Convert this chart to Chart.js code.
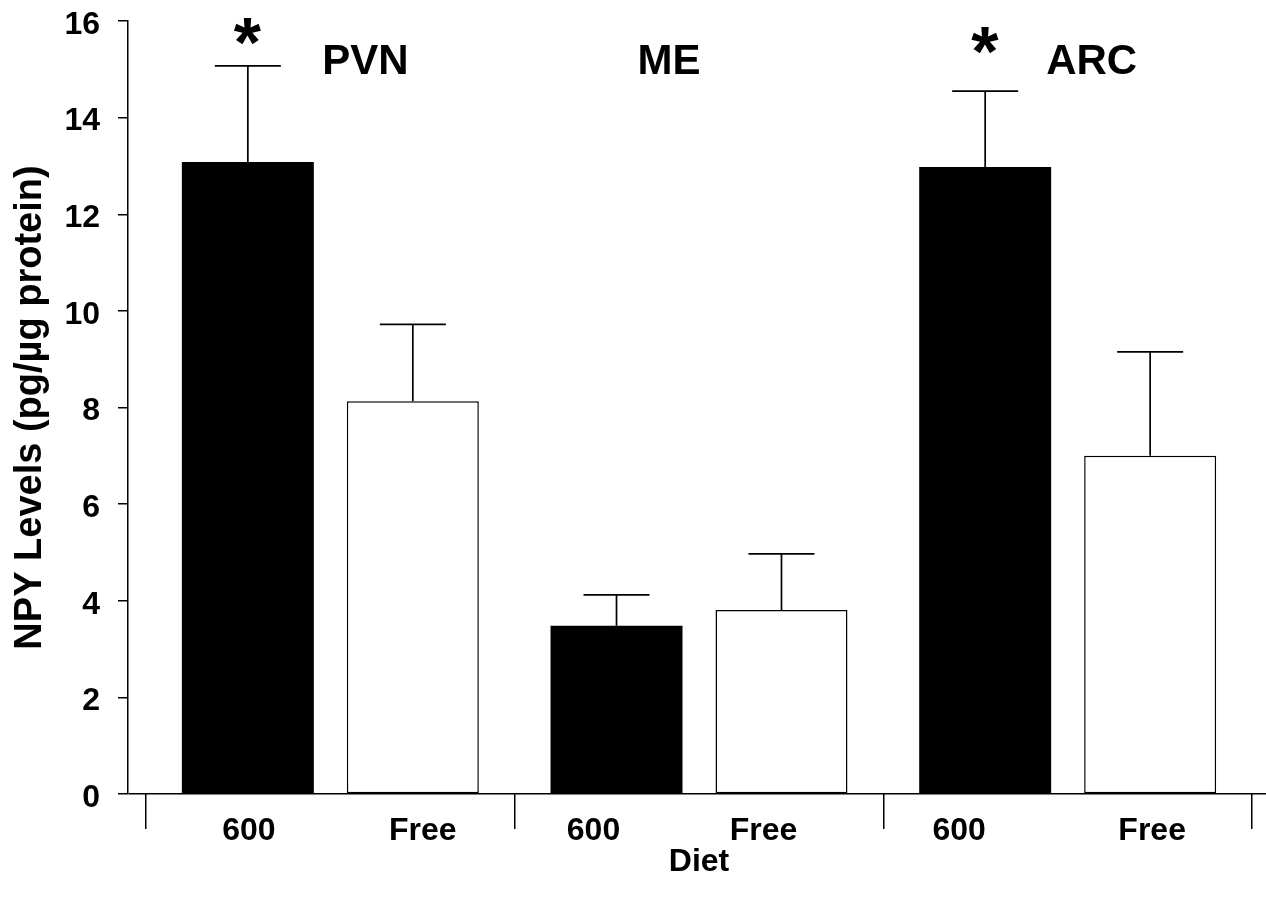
<!DOCTYPE html>
<html>
<head>
<meta charset="utf-8">
<script src="https://cdn.jsdelivr.net/npm/chart.js@4.4.1/dist/chart.umd.min.js"></script>
<style>
  html, body { margin: 0; padding: 0; background: #ffffff; }
  #wrap { width: 1266px; height: 903px; }
</style>
</head>
<body>
<div id="wrap"><canvas id="chart" width="1266" height="903"></canvas></div>
<script>
// ---------------- data ----------------
const regions = ['PVN', 'ME', 'ARC'];
const dietLabels = ['600', 'Free'];
const values600 = [13.08, 3.48, 12.98];
const valuesFree = [8.13, 3.81, 7.00];
const sem600 = [1.99, 0.64, 1.57];
const semFree = [1.59, 1.16, 2.15];
const significant600 = [true, false, true];
const yTickValues = [0, 2, 4, 6, 8, 10, 12, 14, 16];
const yTitle = 'NPY Levels (pg/\u00B5g protein)';
const xTitle = 'Diet';

// ---------------- layout / style constants ----------------
const FONT = "'Liberation Sans', Arial, Helvetica, sans-serif";
const X_RANGE = { left: 146, right: 1252 };      // pixel span of the grouping axis
const CAP_HALF = 33;                              // error-bar cap half width (px)
const LABEL_DX = [[1, -23, -26], [10, -18, 2]];   // diet label shift per dataset/group (px)
const GROUP_LABEL_DX = [35, -30, 24];             // region label shift (px)
const GROUP_LABEL_LEVEL = 14.9;                   // region label baseline (axis units)
const STAR_LEVEL = [15.78, null, 15.59];          // asterisk centre (axis units)

Chart.defaults.font.family = FONT;
Chart.defaults.font.weight = 'bold';
Chart.defaults.color = '#000';

const shiftXAxis = {
  id: 'shiftXAxis',
  afterLayout(chart) {
    const x = chart.scales.x;
    x.left = X_RANGE.left;
    x.right = X_RANGE.right;
    x.width = x.right - x.left;
    x.configure();
  }
};

const annotations = {
  id: 'annotations',
  afterDatasetsDraw(chart) {
    const ctx = chart.ctx;
    const y = chart.scales.y;
    ctx.save();
    ctx.strokeStyle = '#000';
    ctx.lineWidth = 1.7;
    chart.data.datasets.forEach((ds, di) => {
      const meta = chart.getDatasetMeta(di);
      meta.data.forEach((bar, i) => {
        const top = y.getPixelForValue(ds.data[i] + ds.sem[i]);
        ctx.beginPath();
        ctx.moveTo(bar.x, bar.y);
        ctx.lineTo(bar.x, top);
        ctx.moveTo(bar.x - CAP_HALF, top);
        ctx.lineTo(bar.x + CAP_HALF, top);
        ctx.stroke();
      });
    });
    ctx.restore();
  },
  afterDraw(chart) {
    const ctx = chart.ctx;
    const x = chart.scales.x;
    const y = chart.scales.y;
    const area = chart.chartArea;
    ctx.save();
    ctx.fillStyle = '#000';
    // diet labels under each bar
    ctx.font = 'bold 32px ' + FONT;
    ctx.textAlign = 'center';
    ctx.textBaseline = 'alphabetic';
    chart.data.datasets.forEach((ds, di) => {
      const meta = chart.getDatasetMeta(di);
      meta.data.forEach((bar, i) => {
        ctx.fillText(dietLabels[di], bar.x + LABEL_DX[di][i], area.bottom + 46);
      });
    });
    // region labels
    ctx.font = 'bold 42px ' + FONT;
    regions.forEach((r, i) => {
      ctx.fillText(r, x.getPixelForValue(i) + GROUP_LABEL_DX[i], y.getPixelForValue(GROUP_LABEL_LEVEL));
    });
    // significance asterisks
    ctx.font = 'bold 70px ' + FONT;
    ctx.textAlign = 'left';
    const m = ctx.measureText('*');
    const meta0 = chart.getDatasetMeta(0);
    significant600.forEach((s, i) => {
      if (!s) return;
      const cx = meta0.data[i].x;
      const cy = y.getPixelForValue(STAR_LEVEL[i]);
      const base = cy + (m.actualBoundingBoxAscent - m.actualBoundingBoxDescent) / 2;
      const drawX = cx - (m.actualBoundingBoxRight - m.actualBoundingBoxLeft) / 2;
      ctx.fillText('*', drawX, base);
    });
    ctx.restore();
  }
};

new Chart(document.getElementById('chart'), {
  type: 'bar',
  data: {
    labels: regions,
    datasets: [
      {
        label: dietLabels[0],
        data: values600,
        sem: sem600,
        backgroundColor: '#000',
        borderColor: '#000',
        borderWidth: 0
      },
      {
        label: dietLabels[1],
        data: valuesFree,
        sem: semFree,
        backgroundColor: '#fff',
        borderColor: '#000',
        borderWidth: 1.5,
        borderSkipped: false
      }
    ]
  },
  options: {
    responsive: false,
    animation: false,
    devicePixelRatio: 1,
    categoryPercentage: 0.895,
    barPercentage: 0.8,
    layout: { padding: { top: 21, left: 0, right: 0, bottom: 0 } },
    plugins: {
      legend: { display: false },
      tooltip: { enabled: false }
    },
    scales: {
      x: {
        type: 'category',
        offset: true,
        border: { display: false },
        grid: {
          offset: true,
          drawOnChartArea: false,
          drawTicks: true,
          tickLength: 35,
          color: '#000',
          tickColor: '#000',
          lineWidth: 1.5
        },
        ticks: { display: false },
        title: {
          display: true,
          text: xTitle,
          font: { size: 32, weight: 'bold', family: FONT },
          color: '#000',
          padding: { top: 10, bottom: 22 }
        },
        afterFit(s) { s.height = 109; }
      },
      y: {
        type: 'linear',
        min: 0,
        max: 16,
        afterBuildTicks(s) { s.ticks = yTickValues.map(v => ({ value: v })); },
        border: { display: true, color: '#000', width: 1.5 },
        grid: {
          drawOnChartArea: true,
          drawTicks: true,
          tickLength: 10,
          color: c => (c.tick && c.tick.value === 0 ? '#000' : 'rgba(0,0,0,0)'),
          tickColor: '#000',
          lineWidth: 1.5
        },
        ticks: {
          padding: 18,
          labelOffset: 4,
          font: { size: 32, weight: 'bold', family: FONT },
          color: '#000'
        },
        title: {
          display: true,
          text: yTitle,
          font: { size: 38, weight: 'bold', family: FONT },
          color: '#000',
          padding: { top: 8, bottom: 4 }
        },
        afterFit(s) { s.width = 128; s.paddingTop = 0; s.paddingBottom = 0; }
      }
    }
  },
  plugins: [shiftXAxis, annotations]
});
</script>
</body>
</html>
